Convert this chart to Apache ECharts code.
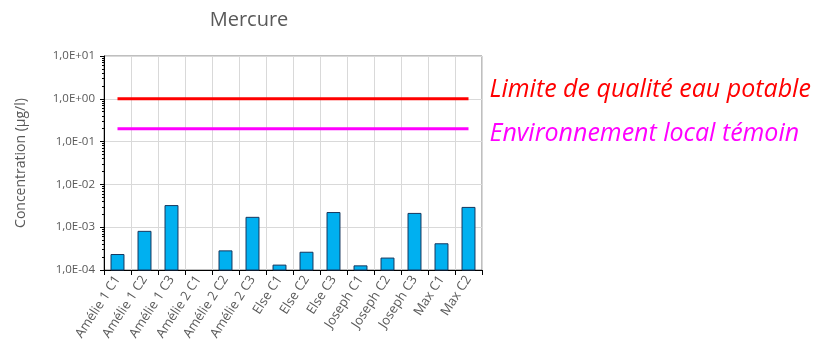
<!DOCTYPE html>
<html><head><meta charset="utf-8">
<script src="https://cdn.jsdelivr.net/npm/echarts@6/dist/echarts.min.js"></script>
<style>html,body{margin:0;padding:0;background:#fff}#c{width:820px;height:355px}</style>
</head><body><div id="c"></div>
<script>
const categories = ['Amélie 1 C1','Amélie 1 C2','Amélie 1 C3','Amélie 2 C1','Amélie 2 C2','Amélie 2 C3','Else C1','Else C2','Else C3','Joseph C1','Joseph C2','Joseph C3','Max C1','Max C2'];
const concentrations = [2.3e-4, 8.0e-4, 3.2e-3, null, 2.8e-4, 1.7e-3, 1.3e-4, 2.6e-4, 2.2e-3, 1.25e-4, 1.9e-4, 2.1e-3, 4.1e-4, 2.9e-3];
const limitePotable = 1.0;
const temoinLocal = 0.2;
const axisMin = 1e-4, axisMax = 10;
const tickLabels = {'1':'1,0E+01','0':'1,0E+00','-1':'1,0E-01','-2':'1,0E-02','-3':'1,0E-03','-4':'1,0E-04'};
const lineLabels = ['Limite de qualité eau potable','Environnement local témoin'];

const chart = echarts.init(document.getElementById('c'), null, {renderer:'canvas'});
const font = "'Open Sans', 'Liberation Sans', sans-serif";
chart.setOption({
  animation:false,
  title:{text:'Mercure', left:244, top:5, textAlign:'center', textStyle:{fontFamily:font, fontSize:20, fontWeight:'normal', color:'#595959'}},
  grid:{left:104, right:338, top:56, bottom:85, show:true, borderColor:'#7f7f7f', borderWidth:1},
  xAxis:{type:'category', data:categories,
    axisLine:{lineStyle:{color:'#000', width:1}},
    axisTick:{show:true, length:5, lineStyle:{color:'#000'}},
    splitLine:{show:true, interval:0, lineStyle:{color:'#d9d9d9'}},
    axisLabel:{rotate:57, interval:0, fontFamily:font, fontSize:13, color:'#595959', margin:7}
  },
  yAxis:{type:'log', logBase:10, min:axisMin, max:axisMax,
    name:'Concentration (µg/l)', nameLocation:'middle', nameGap:76, nameRotate:90,
    nameTextStyle:{fontFamily:font, fontSize:14, color:'#595959'},
    axisLine:{show:true, lineStyle:{color:'#000'}},
    axisTick:{show:true, length:4, lineStyle:{color:'#000'}},
    minorTick:{show:true, splitNumber:9, length:2, lineStyle:{color:'#000'}},
    splitLine:{show:true, lineStyle:{color:'#d9d9d9'}},
    axisLabel:{fontFamily:font, fontSize:11.5, color:'#595959', margin:9,
      formatter:function(v){const e=Math.round(Math.log10(v)); return tickLabels[String(e)]||'';}}
  },
  series:[
    {type:'custom', data:concentrations.map((v,i)=>v===null?[i,'-']:[i,v]),
      encode:{x:0, y:1},
      renderItem:function(params, api){
        const v = api.value(1);
        if (v === '-' || v == null || isNaN(v)) return null;
        const top = api.coord([api.value(0), v]);
        const base = api.coord([api.value(0), axisMin]);
        const w = api.size([1, 0])[0] * 0.48;
        return {type:'rect', shape:{x:top[0]-w/2, y:top[1], width:w, height:base[1]-top[1]},
          style:{fill:'#00B0F0', stroke:'#17375e', lineWidth:1}};
      }},
    {type:'line', data:categories.map(()=>limitePotable), symbol:'none', lineStyle:{color:'#FF0000', width:3},
      endLabel:{show:true, formatter:lineLabels[0], distance:21, offset:[0,-9], color:'#FF0000', fontFamily:font, fontStyle:'italic', fontSize:25}},
    {type:'line', data:categories.map(()=>temoinLocal), symbol:'none', lineStyle:{color:'#FF00FF', width:3},
      endLabel:{show:true, formatter:lineLabels[1], distance:21, offset:[0,5], color:'#FF00FF', fontFamily:font, fontStyle:'italic', fontSize:25}}
  ]
});
</script></body></html>
